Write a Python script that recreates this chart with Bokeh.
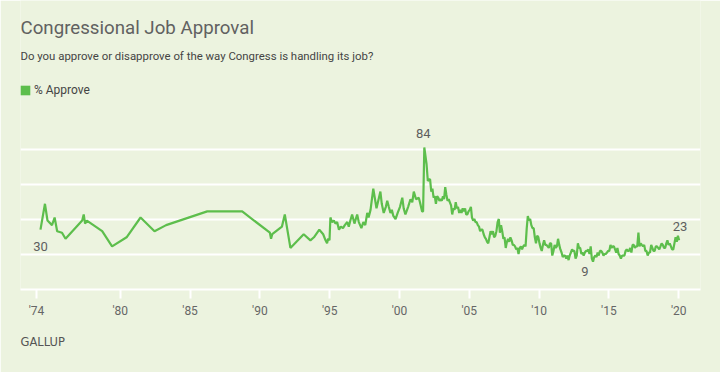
import pandas as pd
from bokeh.plotting import figure
from bokeh.models import (Label, FixedTicker, Range1d, ColumnDataSource, Legend,
                          LegendItem, Grid, DatetimeTickFormatter, Title)
from bokeh.embed import file_html
from bokeh.resources import INLINE

# ---------------- data ----------------
early_dates = [
    "1974-04-15", "1974-08-10", "1974-10-15", "1975-02-10", "1975-04-20", "1975-06-25",
    "1975-10-30", "1976-01-30", "1977-04-10", "1977-05-20", "1977-06-25", "1977-08-10",
    "1978-09-15", "1979-06-01", "1980-06-15", "1981-06-15", "1982-06-15", "1983-04-15",
    "1986-03-25", "1988-09-25", "1990-09-20", "1990-10-20", "1990-11-20", "1991-08-01",
    "1991-10-15", "1992-03-10", "1993-02-20", "1993-08-15", "1993-11-15", "1994-04-05",
    "1994-07-15", "1994-09-15", "1994-10-25", "1994-11-20", "1994-12-28",
    "1995-01-20", "1995-03-05", "1995-04-20", "1995-06-01", "1995-07-15", "1995-09-01",
    "1995-10-20", "1995-12-15", "1996-02-01", "1996-04-05", "1996-05-15", "1996-06-25",
    "1996-08-10", "1996-10-10", "1996-12-20", "1997-02-01", "1997-04-10", "1997-06-01",
    "1997-07-20", "1997-09-10", "1997-10-15", "1997-12-05", "1998-02-15", "1998-04-01",
    "1998-05-10", "1998-06-25", "1998-08-20", "1998-09-25", "1998-11-15", "1999-01-10",
    "1999-02-15", "1999-03-28", "1999-05-10", "1999-06-15", "1999-07-25", "1999-09-20",
    "1999-11-15", "2000-01-15", "2000-03-15", "2000-04-20", "2000-06-05", "2000-08-15",
    "2000-10-15", "2000-12-01", "2001-01-10", "2001-03-10", "2001-05-20", "2001-06-20",
    "2001-08-15", "2001-09-10", "2001-10-12", "2001-12-10",
]
early_approve = [
    30, 47, 36, 33, 38, 29,
    28, 24, 36, 40, 34, 36,
    29, 19, 25, 38, 29, 33,
    42, 42, 28, 24, 27, 32,
    40, 18, 27, 23, 25, 30,
    27, 23, 21, 24, 23,
    38, 35, 36, 34, 35, 30,
    32, 31, 33, 35, 32, 36,
    40, 34, 40, 35, 31, 35,
    33, 41, 38, 43, 57, 50,
    44, 49, 55, 47, 41, 45,
    49, 45, 41, 43, 39, 37,
    41, 45, 51, 44, 40, 45,
    50, 48, 55, 50, 51, 48,
    42, 42, 84, 73,
]

# monthly readings (Jan..Dec) from 2002 on
monthly_approve = {
    2002: [62, 63, 63, 55, 57, 51, 52, 47, 52, 51, 49, 50],
    2003: [49, 52, 50, 58, 53, 49, 50, 48, 46, 40, 44, 43],
    2004: [48, 44, 45, 41, 43, 41, 44, 42, 44, 40, 40, 42],
    2005: [43, 45, 38, 36, 37, 35, 35, 33, 32, 29, 30, 30],
    2006: [27, 25, 24, 22, 21, 25, 29, 27, 29, 25, 26, 29],
    2007: [35, 37, 28, 33, 29, 24, 25, 18, 22, 24, 22, 25],
    2008: [23, 20, 20, 19, 17, 18, 14, 18, 19, 17, 19, 20],
    2009: [19, 31, 39, 36, 37, 33, 31, 31, 25, 21, 26, 25],
    2010: [21, 18, 16, 20, 23, 20, 20, 19, 18, 21, 21, 13],
    2011: [16, 20, 18, 19, 24, 20, 17, 15, 12, 13, 13, 11],
    2012: [13, 10, 13, 15, 17, 16, 16, 11, 13, 21, 18, 18],
    2013: [14, 15, 13, 15, 16, 16, 17, 14, 19, 11, 9, 12],
    2014: [13, 12, 15, 13, 16, 16, 15, 13, 14, 14, 15, 16],
    2015: [16, 20, 18, 19, 19, 17, 15, 18, 14, 13, 11, 13],
    2016: [13, 13, 16, 17, 16, 16, 18, 15, 20, 20, 18, 19],
    2017: [19, 28, 19, 21, 20, 19, 20, 16, 16, 13, 15, 15],
    2018: [20, 18, 16, 16, 19, 19, 18, 17, 19, 21, 20, 18],
    2019: [18, 21, 23, 20, 21, 19, 17, 17, 21, 25, 22, 26],
    2020: [23],
}

tick_years = [1974, 1980, 1985, 1990, 1995, 2000, 2005, 2010, 2015, 2020]

# ---------------- assemble ----------------
dates = list(early_dates)
approve = list(early_approve)
for yr in sorted(monthly_approve):
    for m, v in enumerate(monthly_approve[yr]):
        dates.append(f"{yr}-{m + 1:02d}-12")
        approve.append(v)

xs = pd.to_datetime(dates)
src = ColumnDataSource(dict(x=xs, y=approve))

BG = "#ECF3DF"
GREEN = "#5DBE4C"
TXT = "#5E5E5E"
FONT = "Roboto"

p = figure(width=720, height=372, x_axis_type="datetime", y_axis_location=None,
           x_range=Range1d(pd.Timestamp("1972-11-08"), pd.Timestamp("2021-07-25")),
           y_range=Range1d(-9.32, 180.6),
           output_backend="svg", toolbar_location=None,
           min_border_left=20, min_border_right=20, min_border_top=0, min_border_bottom=83,
           background_fill_color=BG, border_fill_color=BG)
p.outline_line_color = None
p.xgrid.visible = False
for g in p.ygrid:
    g.visible = False
p.add_layout(Grid(dimension=1,
                  ticker=FixedTicker(ticks=[-9.32, 13.68, 36.68, 59.69, 82.69]),
                  grid_line_color="white", grid_line_width=2))

ax = p.xaxis[0]
ax.ticker = FixedTicker(ticks=[pd.Timestamp(f"{y}-01-01").value // 10**6 for y in tick_years])
ax.formatter = DatetimeTickFormatter(years="'%y", months="'%y", days="'%y", hours="'%y",
                                     minutes="'%y", seconds="'%y", milliseconds="'%y",
                                     microseconds="'%y", hourmin="'%y", minsec="'%y")
ax.axis_line_color = "white"
ax.axis_line_width = 2
ax.major_tick_line_color = "white"
ax.major_tick_line_width = 2
ax.major_tick_out = 9
ax.major_tick_in = 0
ax.minor_tick_line_color = None
ax.major_label_text_color = "#666666"
ax.major_label_text_font_size = "12px"
ax.major_label_text_font = FONT
ax.major_label_standoff = 5

line = p.line("x", "y", source=src, line_color=GREEN, line_width=2.2)

# legend (square swatch; one NaN row so the swatch has a fill to draw, nothing on the plot)
swatch_src = ColumnDataSource(dict(l=[float("nan")], r=[float("nan")],
                                   t=[float("nan")], b=[float("nan")]))
swatch = p.quad(left="l", right="r", top="t", bottom="b", source=swatch_src,
                fill_color=GREEN, line_color=None)
legend = Legend(items=[LegendItem(label="% Approve", renderers=[swatch])],
                location=(-1, 192), orientation="horizontal", padding=0, margin=0,
                spacing=0, glyph_width=12, glyph_height=12, label_height=12,
                label_standoff=3, label_text_font_size="12px", label_text_font=FONT,
                label_text_color="#444444", background_fill_alpha=0,
                border_line_color=None)
p.add_layout(legend)

# point labels
def ms(ts):
    return ts.value / 10**6

i_max = approve.index(max(approve))
i_min = approve.index(min(approve))
i_first, i_last = 0, len(approve) - 1
for i, dx, dy in [(i_first, 0, -17), (i_max, -1, 14), (i_min, -8, -10), (i_last, 1, 14)]:
    p.add_layout(Label(x=ms(xs[i]), y=approve[i], text=str(approve[i]), x_offset=dx,
                       y_offset=dy, text_align="center", text_baseline="middle",
                       text_font_size="13px", text_font=FONT, text_color=TXT))

# titles (frame reaches the top of the canvas; screen y measured up from frame bottom)
p.add_layout(Label(x=0, y=262, x_units="screen", y_units="screen",
                   text="Congressional Job Approval", text_font_size="18.7px",
                   text_font=FONT, text_color="#616161", text_baseline="middle"))
p.add_layout(Label(x=0, y=234, x_units="screen", y_units="screen",
                   text="Do you approve or disapprove of the way Congress is handling its job?",
                   text_font_size="11.4px", text_font=FONT, text_color="#444444",
                   text_baseline="middle"))

p.add_layout(Title(text="GALLUP", align="left", text_font_size="11.5px",
                   text_font="DejaVu Sans", text_color="#555555",
                   text_font_style="normal", standoff=25), "below")

open("out.html", "w").write(file_html(p, INLINE))
